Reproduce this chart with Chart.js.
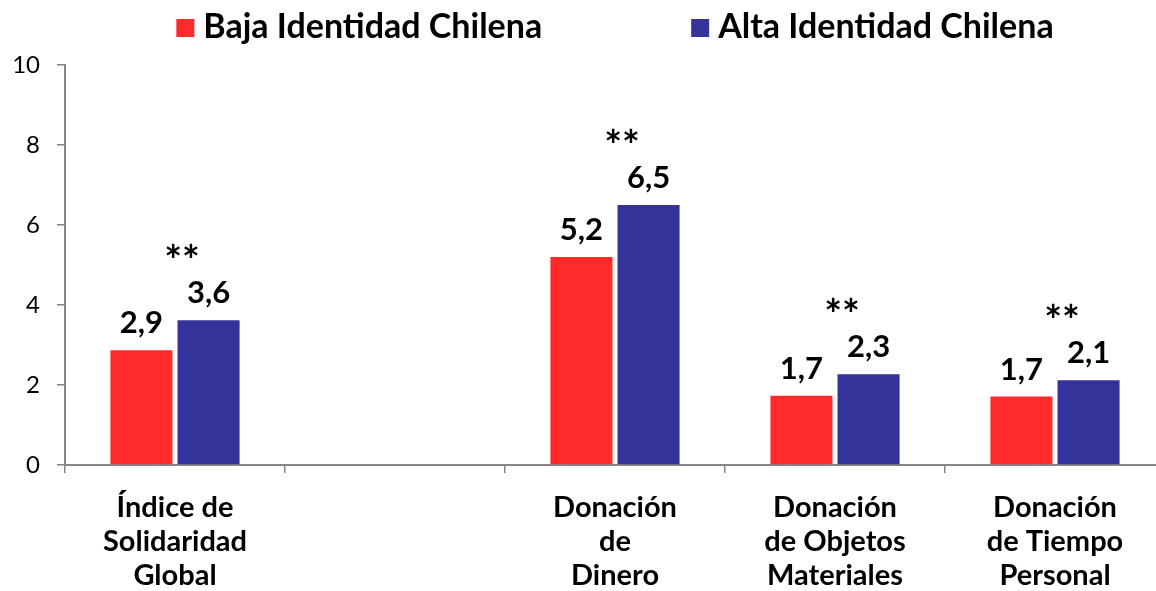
<!DOCTYPE html>
<html>
<head>
<meta charset="utf-8">
<script src="https://cdn.jsdelivr.net/npm/chart.js@4"></script>
<style>
  html, body { margin: 0; padding: 0; background: #fff; overflow: hidden; }
  #wrap { width: 1156px; height: 591px; overflow: hidden; }
</style>
</head>
<body>
<div id="wrap"><canvas id="chart" width="1166" height="591"></canvas></div>
<script>
// categories (multi-line labels), one slot is empty in the original
const categories = [
    ['Índice de', 'Solidaridad', 'Global'],
    [''],
    ['Donación', 'de', 'Dinero'],
    ['Donación', 'de Objetos', 'Materiales'],
    ['Donación', 'de Tiempo', 'Personal']
];
const bajaIdentidad = [2.87, null, 5.2, 1.73, 1.71];
const altaIdentidad = [3.62, null, 6.5, 2.27, 2.12];
const significance = ['**', '', '**', '**', '**'];
const yTicks = [0, 2, 4, 6, 8, 10];

const RED = '#FF2A2A';
const BLUE = '#333399';
const AXIS = '#868686';
const FONT = 'Lato, "DejaVu Sans", sans-serif';

// value labels, significance stars and the legend are drawn here
const annotations = {
    id: 'annotations',
    afterDatasetsDraw(chart) {
        const ctx = chart.ctx;
        ctx.save();
        ctx.fillStyle = '#000';
        ctx.textAlign = 'center';
        ctx.textBaseline = 'alphabetic';

        // value labels
        ctx.font = 'bold 31px ' + FONT;
        chart.data.datasets.forEach((ds, i) => {
            chart.getDatasetMeta(i).data.forEach((bar, j) => {
                if (ds.data[j] == null) return;
                ctx.fillText(ds.data[j].toFixed(1).replace('.', ','), bar.x, bar.y - 17);
            });
        });

        // stars above the taller bar of each pair
        ctx.font = 'bold 42px ' + FONT;
        const xScale = chart.scales.x;
        significance.forEach((s, j) => {
            if (!s) return;
            const top = Math.min(
                chart.getDatasetMeta(0).data[j].y,
                chart.getDatasetMeta(1).data[j].y
            );
            ctx.fillText(s, xScale.getPixelForValue(j) + 7, top - 44);
        });

        // legend
        const area = chart.chartArea;
        const box = 18, boxGap = 9, itemGap = 149;
        ctx.font = 'bold 34px ' + FONT;
        const items = chart.data.datasets.map(ds => ({
            text: ds.label, color: ds.backgroundColor, w: box + boxGap + ctx.measureText(ds.label).width
        }));
        const total = items.reduce((s, it) => s + it.w, 0) + itemGap * (items.length - 1);
        let x = (area.left + area.right) / 2 - total / 2;
        ctx.textAlign = 'left';
        items.forEach(it => {
            ctx.fillStyle = it.color;
            ctx.fillRect(x, 19, box, box);
            ctx.fillStyle = '#000';
            ctx.fillText(it.text, x + box + boxGap, 38);
            x += it.w + itemGap;
        });
        ctx.restore();
    }
};

new Chart(document.getElementById('chart'), {
    type: 'bar',
    data: {
        labels: categories,
        datasets: [
            { label: 'Baja Identidad Chilena', data: bajaIdentidad, backgroundColor: RED },
            { label: 'Alta Identidad Chilena', data: altaIdentidad, backgroundColor: BLUE }
        ]
    },
    options: {
        responsive: false,
        animation: false,
        categoryPercentage: 0.61,
        barPercentage: 0.925,
        layout: { padding: { top: 65, right: 1, left: 0, bottom: 0 } },
        plugins: {
            legend: { display: false },
            tooltip: { enabled: false }
        },
        scales: {
            x: {
                border: { color: AXIS, width: 2 },
                grid: { drawOnChartArea: false, tickLength: 8, color: AXIS, lineWidth: 1.5 },
                ticks: {
                    color: '#000',
                    font: { family: FONT, size: 29, weight: 'bold', lineHeight: 34 / 29 },
                    padding: 18,
                    maxRotation: 0,
                    autoSkip: false
                },
                afterFit(scale) { scale.height = 126; }
            },
            y: {
                min: 0,
                max: 10,
                border: { color: AXIS, width: 2 },
                grid: { drawOnChartArea: false, tickLength: 8, color: AXIS, lineWidth: 1.5 },
                afterBuildTicks(scale) { scale.ticks = yTicks.map(v => ({ value: v })); },
                ticks: {
                    color: '#000',
                    font: { family: FONT, size: 24 },
                    padding: 17
                },
                afterFit(scale) { scale.width = 65; }
            }
        }
    },
    plugins: [annotations]
});
</script>
</body>
</html>
